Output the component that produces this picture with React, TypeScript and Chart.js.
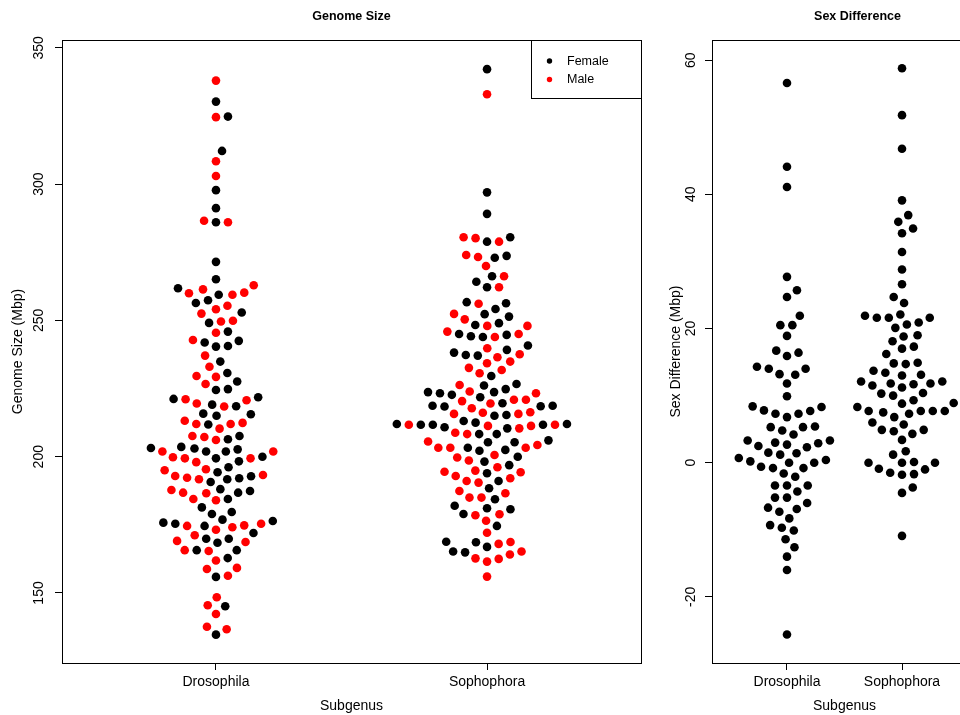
import React, { useEffect, useRef } from "react";
import { Chart, registerables } from "chart.js";

Chart.register(...registerables);

const FONT = "'Liberation Sans', Arial, Helvetica, sans-serif";

const categories = ["Drosophila", "Sophophora"];
const genomeTicks = [150, 200, 250, 300, 350];
const diffTicks = [-20, 0, 20, 40, 60];
const sexLabels = ["Female", "Male"];
const sexColors = ["#000000", "#ff0000"];

// Genome size (Mbp), subgenus Drosophila
const drosophilaFemale = [
  330.3, 324.8, 312.2, 297.8, 291.2, 286.0, 271.5, 265.1, 259.4, 261.8, 256.4, 257.4,
  252.9, 249.1, 245.9, 242.5, 240.6, 240.4, 241.9, 234.9, 230.7, 227.6, 224.8, 224.5,
  221.8, 221.2, 219.1, 218.5, 215.8, 215.0, 215.6, 211.8, 207.6, 206.4, 203.0, 203.2,
  201.9, 201.9, 202.7, 203.6, 198.3, 199.4, 200.0, 194.3, 196.1, 191.7, 190.7, 192.1,
  192.8, 187.4, 186.8, 188.1, 184.5, 181.4, 179.7, 179.0, 176.4, 174.6, 175.4, 176.9,
  175.8, 172.0, 169.9, 168.4, 169.9, 165.7, 165.7, 162.8, 155.9, 145.1, 134.7,
];
const drosophilaMale = [
  338.0, 324.6, 308.4, 303.0, 286.6, 286.0, 262.9, 261.4, 260.2, 259.4, 260.0, 255.4,
  254.1, 252.5, 249.9, 249.6, 245.5, 242.8, 237.1, 233.0, 229.3, 229.6, 226.7, 221.1,
  220.7, 219.5, 218.4, 213.2, 212.0, 212.0, 210.3, 212.4, 207.2, 206.1, 207.6, 201.9,
  201.9, 199.8, 199.4, 198.0, 199.4, 195.4, 195.0, 192.9, 192.3, 191.7, 193.3, 186.8,
  186.6, 187.8, 184.0, 184.5, 174.1, 175.4, 174.6, 174.8, 173.2, 171.2, 168.7, 169.1,
  165.7, 165.4, 161.9, 159.2, 158.8, 156.3, 148.4, 145.5, 142.3, 137.6, 136.7,
];
// Genome size (Mbp), subgenus Sophophora
const sophophoraFemale = [
  342.2, 297.0, 289.1, 278.9, 280.5, 273.7, 273.0, 266.2, 264.2, 262.2, 256.3, 256.7,
  254.2, 252.3, 251.4, 248.3, 249.0, 244.2, 243.9, 244.7, 245.0, 240.8, 238.2, 237.3,
  239.2, 237.1, 229.6, 226.1, 226.7, 224.8, 223.7, 223.3, 222.7, 223.7, 221.8, 219.6,
  218.7, 218.4, 218.7, 218.5, 215.3, 215.0, 212.5, 211.7, 211.7, 210.4, 212.0, 210.8,
  211.7, 212.0, 213.1, 208.3, 208.3, 206.0, 205.3, 205.3, 203.3, 202.5, 202.2, 200.0,
  198.2, 196.9, 193.9, 191.1, 188.4, 184.4, 182.0, 181.1, 180.7, 179.0, 174.6, 168.8,
  168.6, 166.9, 164.9, 165.2,
];
const sophophoraMale = [
  333.0, 280.5, 280.2, 278.9, 274.0, 273.3, 270.0, 266.2, 262.2, 256.1, 252.4, 250.4,
  248.0, 248.0, 245.9, 245.0, 243.9, 239.8, 237.6, 236.5, 234.3, 234.9, 232.6, 231.8,
  230.6, 226.3, 223.3, 223.9, 220.9, 219.5, 220.9, 220.4, 216.3, 215.7, 215.7, 216.1,
  217.8, 211.7, 211.3, 211.3, 210.4, 211.7, 208.3, 208.8, 205.6, 203.3, 203.3, 203.3,
  204.3, 198.6, 199.7, 200.6, 196.1, 194.3, 194.9, 194.5, 192.9, 192.1, 191.1, 190.5,
  187.4, 186.6, 185.0, 185.0, 178.9, 178.5, 176.5, 172.1, 168.0, 168.7, 165.2, 164.1,
  162.7, 161.5, 162.5, 156.0,
];
// Sex difference (Mbp)
const drosophilaDiff = [
  56.6, 44.1, 41.1, 27.7, 25.7, 24.7, 21.9, 20.5, 20.5, 18.9, 16.7, 15.9, 16.4, 14.0,
  13.2, 13.1, 14.0, 14.3, 11.8, 9.9, 8.3, 7.7, 7.3, 8.4, 6.8, 7.3, 7.8, 5.3, 5.3, 4.2,
  4.8, 5.4, 3.3, 2.5, 2.7, 2.3, 2.9, 3.0, 3.3, 1.4, 1.2, 0.7, 1.5, 0.4, 0.0, 0.0, -0.8,
  -0.8, -0.6, 0.2, -1.6, -2.1, -3.4, -3.4, -3.4, -4.3, -5.2, -5.2, -6.7, -6.9, -7.3,
  -6.0, -8.3, -9.3, -9.7, -10.1, -11.4, -12.6, -14.0, -16.0, -25.6,
];
const sophophoraDiff = [
  58.8, 51.8, 46.8, 39.1, 36.9, 35.9, 34.9, 34.2, 31.4, 28.8, 26.6, 23.8, 24.7, 22.1,
  21.6, 20.9, 21.6, 20.6, 21.6, 21.9, 20.1, 18.8, 18.1, 19.0, 17.3, 17.0, 16.2, 14.9,
  14.8, 14.7, 13.7, 13.4, 13.0, 13.1, 12.1, 11.8, 11.7, 11.5, 11.8, 12.1, 11.2, 10.0,
  10.4, 10.3, 8.9, 9.3, 8.8, 7.7, 7.7, 7.5, 6.8, 7.3, 7.7, 7.7, 8.3, 6.0, 4.9, 4.7,
  5.7, 4.3, 4.9, 3.4, 1.7, 1.2, 0.0, 0.0, 0.0, 0.1, -0.9, -1.5, -1.7, -1.8, -1.0, -4.5,
  -3.7, -10.9,
];

type Group = { cat: number; series: { ds: number; values: number[] }[] };

// beeswarm "swarm" placement (ascending priority), in pixel space
function swarmOffsets(py: number[], D: number): number[] {
  const xs: number[] = [];
  for (let i = 0; i < py.length; i++) {
    const yi = py[i];
    const near: number[] = [];
    for (let j = 0; j < i; j++) if (Math.abs(py[j] - yi) < D) near.push(j);
    if (!near.length) {
      xs.push(0);
      continue;
    }
    const cands: number[] = [0];
    for (const j of near) cands.push(xs[j] + Math.sqrt(D * D - (py[j] - yi) ** 2));
    for (const j of near) cands.push(xs[j] - Math.sqrt(D * D - (py[j] - yi) ** 2));
    let best = 0;
    let bestAbs = Infinity;
    for (const c of cands) {
      let ok = true;
      for (const j of near) {
        const dx = xs[j] - c;
        const dy = py[j] - yi;
        if (dx * dx + dy * dy < D * D * 0.999) {
          ok = false;
          break;
        }
      }
      if (ok && Math.abs(c) < bestAbs - 1e-9) {
        best = c;
        bestAbs = Math.abs(c);
      }
    }
    xs.push(best);
  }
  return xs;
}

function applySwarm(chart: any, groups: Group[], D: number) {
  const xs = chart.scales.x;
  const ys = chart.scales.y;
  const out: { x: number; y: number }[][] = chart.data.datasets.map(() => []);
  for (const g of groups) {
    const items: { ds: number; v: number; py: number }[] = [];
    g.series.forEach((s) =>
      s.values.forEach((v) => items.push({ ds: s.ds, v, py: ys.getPixelForValue(v) }))
    );
    items.sort((a, b) => a.v - b.v);
    const cx = xs.getPixelForValue(g.cat);
    const offs = swarmOffsets(items.map((it) => it.py), D);
    items.forEach((it, k) => {
      out[it.ds].push({ x: xs.getValueForPixel(cx + offs[k]), y: it.v });
    });
  }
  chart.data.datasets.forEach((d: any, i: number) => (d.data = out[i]));
  chart.update();
}

function initialData(groups: Group[], nSets: number) {
  const out: { x: number; y: number }[][] = Array.from({ length: nSets }, () => []);
  groups.forEach((g) => g.series.forEach((s) => s.values.forEach((v) => out[s.ds].push({ x: g.cat, y: v }))));
  return out;
}

const align = (p: number) => Math.round(p - 0.5) + 0.5;

const boxPlugin = {
  id: "plotBox",
  afterDraw(chart: any) {
    const { ctx, chartArea: a } = chart;
    const l = align(a.left);
    const t = align(a.top);
    const r = align(a.right);
    const b = align(a.bottom);
    ctx.save();
    ctx.strokeStyle = "#000";
    ctx.lineWidth = 1;
    ctx.strokeRect(l, t, r - l, b - t);
    ctx.restore();
  },
};

// x-axis label, centred between the category positions
const xLabelPlugin = {
  id: "xLabel",
  afterDraw(chart: any, _args: any, opts: any) {
    const { ctx } = chart;
    const xs = chart.scales.x;
    const cx = xs.getPixelForValue((1 + categories.length) / 2);
    ctx.save();
    ctx.fillStyle = "#000";
    ctx.font = `14px ${FONT}`;
    ctx.textAlign = "center";
    ctx.textBaseline = "middle";
    ctx.fillText(opts.text, cx, chart.height - 8.5);
    ctx.restore();
  },
};

const legendBoxPlugin = {
  id: "legendBox",
  afterDraw(chart: any) {
    const { ctx, chartArea: a } = chart;
    const w = 110;
    const h = 58;
    const x0 = Math.round(a.right) - w;
    const y0 = Math.round(a.top);
    ctx.save();
    ctx.fillStyle = "#fff";
    ctx.fillRect(x0, y0, w, h);
    ctx.strokeStyle = "#000";
    ctx.lineWidth = 1;
    ctx.strokeRect(x0 + 0.5, y0 + 0.5, w, h);
    chart.data.datasets.forEach((ds: any, i: number) => {
      const cy = y0 + 21 + i * 18.5;
      ctx.fillStyle = ds.backgroundColor;
      ctx.beginPath();
      ctx.arc(x0 + 18.5, cy, 2.7, 0, Math.PI * 2);
      ctx.fill();
      ctx.fillStyle = "#000";
      ctx.font = `12.5px ${FONT}`;
      ctx.textBaseline = "middle";
      ctx.textAlign = "left";
      ctx.fillText(ds.label, x0 + 36, cy + 0.5);
    });
    ctx.restore();
  },
};

function makeOptions(opts: {
  title: string;
  yTitle: string;
  xMin: number;
  xMax: number;
  yMin: number;
  yMax: number;
  yTicks: number[];
  padRight: number;
  yTitlePad: number;
  yTickPad: number;
}) {
  const tickFont = { family: FONT, size: 14 };
  const axisGrid = {
    display: true,
    drawOnChartArea: false,
    drawTicks: true,
    tickLength: 7,
    color: "#000",
    lineWidth: 1,
  };
  return {
    responsive: false,
    animation: false as const,
    events: [] as any[],
    devicePixelRatio: 1,
    layout: { padding: { left: 0, right: opts.padRight, top: 0, bottom: 0 }, autoPadding: false },
    plugins: {
      legend: { display: false },
      tooltip: { enabled: false },
      xLabel: { text: "Subgenus" },
      title: {
        display: true,
        text: opts.title,
        fullSize: false,
        color: "#000",
        font: { family: FONT, size: 12.5, weight: "bold" as const, lineHeight: 1.2 },
        padding: { top: 9, bottom: 16 },
      },
    },
    scales: {
      x: {
        type: "linear" as const,
        min: opts.xMin,
        max: opts.xMax,
        afterBuildTicks: (s: any) => {
          s.ticks = categories.map((_, i) => ({ value: i + 1 }));
        },
        afterFit: (s: any) => {
          s.height = 52;
        },
        ticks: {
          autoSkip: false,
          maxRotation: 0,
          minRotation: 0,
          color: "#000",
          font: tickFont,
          padding: 4,
          callback: (v: any) => categories[Math.round(Number(v)) - 1] ?? "",
        },
        grid: axisGrid,
        border: { display: true, color: "#000", width: 1 },
        title: { display: false },
      },
      y: {
        type: "linear" as const,
        min: opts.yMin,
        max: opts.yMax,
        afterBuildTicks: (s: any) => {
          s.ticks = opts.yTicks.map((v) => ({ value: v }));
        },
        afterFit: (s: any) => {
          s.width = 62;
        },
        ticks: {
          autoSkip: false,
          minRotation: 90,
          maxRotation: 90,
          crossAlign: "center" as const,
          color: "#000",
          font: tickFont,
          padding: opts.yTickPad,
          callback: (v: any) => String(v),
        },
        grid: axisGrid,
        border: { display: true, color: "#000", width: 1 },
        title: {
          display: true,
          text: opts.yTitle,
          color: "#000",
          font: { family: FONT, size: 14, lineHeight: 1.2 },
          padding: { top: opts.yTitlePad, bottom: 0 },
        },
      },
    },
  };
}

const pointStyle = { pointRadius: 4.3, pointHoverRadius: 4.3, borderWidth: 0, pointBorderWidth: 0 };

export default function App() {
  const leftRef = useRef<HTMLCanvasElement>(null);
  const rightRef = useRef<HTMLCanvasElement>(null);

  useEffect(() => {
    if (!leftRef.current || !rightRef.current) return;

    const genomeGroups: Group[] = [
      { cat: 1, series: [{ ds: 0, values: drosophilaFemale }, { ds: 1, values: drosophilaMale }] },
      { cat: 2, series: [{ ds: 0, values: sophophoraFemale }, { ds: 1, values: sophophoraMale }] },
    ];
    const diffGroups: Group[] = [
      { cat: 1, series: [{ ds: 0, values: drosophilaDiff }] },
      { cat: 2, series: [{ ds: 0, values: sophophoraDiff }] },
    ];

    const gInit = initialData(genomeGroups, 2);
    const left = new Chart(leftRef.current, {
      type: "scatter",
      data: {
        datasets: sexLabels.map((label, i) => ({
          label,
          data: gInit[i],
          backgroundColor: sexColors[i],
          borderColor: sexColors[i],
          ...pointStyle,
        })),
      },
      options: makeOptions({
        title: "Genome Size",
        yTitle: "Genome Size (Mbp)",
        xMin: 0.432,
        xMax: 2.568,
        yMin: 124.3,
        yMax: 352.9,
        yTicks: genomeTicks,
        padRight: 9,
        yTitlePad: 10,
        yTickPad: 4,
      }) as any,
      plugins: [boxPlugin, legendBoxPlugin, xLabelPlugin],
    });

    const dInit = initialData(diffGroups, 1);
    const right = new Chart(rightRef.current, {
      type: "scatter",
      data: {
        datasets: [
          {
            label: "Sex Difference",
            data: dInit[0],
            backgroundColor: "#000000",
            borderColor: "#000000",
            ...pointStyle,
          },
        ],
      },
      options: makeOptions({
        title: "Sex Difference",
        yTitle: "Sex Difference (Mbp)",
        xMin: 0.348,
        xMax: 2.878,
        yMin: -29.85,
        yMax: 63,
        yTicks: diffTicks,
        padRight: 7,
        yTitlePad: 18,
        yTickPad: 4,
      }) as any,
      plugins: [boxPlugin, xLabelPlugin],
    });

    applySwarm(left, genomeGroups, 12);
    applySwarm(right, diffGroups, 12);

    return () => {
      left.destroy();
      right.destroy();
    };
  }, []);

  return (
    <div
      style={{
        position: "absolute",
        left: 0,
        top: 0,
        width: 960,
        height: 715,
        overflow: "hidden",
        background: "#fff",
      }}
    >
      <canvas
        ref={leftRef}
        width={650}
        height={715}
        style={{ position: "absolute", left: 0, top: 0, width: 650, height: 715 }}
      />
      <canvas
        ref={rightRef}
        width={360}
        height={715}
        style={{ position: "absolute", left: 650, top: 0, width: 360, height: 715 }}
      />
    </div>
  );
}
